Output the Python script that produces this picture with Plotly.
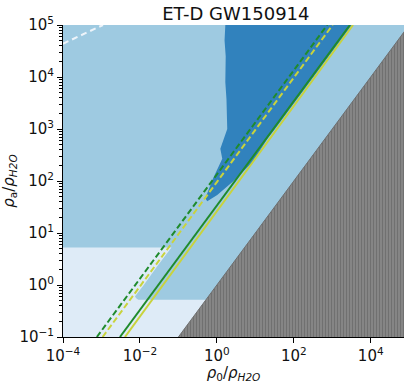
import plotly.graph_objects as go

# Axis extent in log10 units
log_rho0_range = [-4.0, 4.865]
log_rhoa_range = [-1.0, 5.0]

# Tick labels
x_tick_vals = [1e-4, 1e-2, 1e0, 1e2, 1e4]
x_tick_text = ["10<sup>−4</sup>", "10<sup>−2</sup>", "10<sup>0</sup>", "10<sup>2</sup>", "10<sup>4</sup>"]
y_tick_vals = [1e-1, 1e0, 1e1, 1e2, 1e3, 1e4, 1e5]
y_tick_text = ["10<sup>−1</sup>", "10<sup>0</sup>", "10<sup>1</sup>", "10<sup>2</sup>",
               "10<sup>3</sup>", "10<sup>4</sup>", "10<sup>5</sup>"]

# Outer (faint) credible region, log10 vertices
faint_log_rho0 = [-4.0, -4.0, -1.18, -1.55, -1.90, -2.13, -2.09, -2.04, 0.3, 0.3]
faint_log_rhoa = [-1.0, 0.72, 0.72, 0.36, 0.0, -0.22, -0.26, -0.285, -0.285, -1.0]

# Inner (dark) credible region, log10 vertices
dark_log_rho0 = [0.22, 0.20, 0.23, 0.22, 0.25, 0.27, 0.09, 0.14, -0.10, -0.30, -0.25,
                 0.01, 0.42, 0.94, 1.31, 1.51, 3.51]
dark_log_rhoa = [5.0, 4.7, 4.4, 3.9, 3.57, 3.0, 2.62, 2.43, 2.05, 1.67, 1.61,
                 1.73, 1.99, 2.37, 2.81, 3.0, 5.0]

# Excluded zone rho_a < rho_0
excluded_log_rho0 = [-1.0, 5.0, 5.0]
excluded_log_rhoa = [-1.0, 5.0, -1.0]

# Threshold lines: log10 rho0 at rho_a = 0.1 and rho_a = 1e5
line_log_rhoa = [-1.0, 5.0]
green_solid_log_rho0 = [-2.52, 3.46]
olive_solid_log_rho0 = [-2.39, 3.54]
green_dash_log_rho0 = [-3.12, 2.87]
olive_dash_log_rho0 = [-2.97, 3.01]

# Upper-left white dashed curve
white_log_rho0 = [-4.0, -2.96]
white_log_rhoa = [4.64, 5.0]

LIGHT = "#9ecae1"
FAINT = "#deebf7"
DARK = "#3182bd"
GREEN = "#1f8b2c"
OLIVE = "#c9d33c"


def pw(vals):
    return [10 ** v for v in vals]


fig = go.Figure()

# light-blue background covering the whole panel
fig.add_trace(go.Scatter(
    x=pw([log_rho0_range[0], log_rho0_range[0], 5, 5]),
    y=pw([log_rhoa_range[0], log_rhoa_range[1], log_rhoa_range[1], log_rhoa_range[0]]),
    fill="toself", fillcolor=LIGHT, mode="none"))

fig.add_trace(go.Scatter(x=pw(faint_log_rho0), y=pw(faint_log_rhoa),
                         fill="toself", fillcolor=FAINT, mode="none"))
fig.add_trace(go.Scatter(x=pw(dark_log_rho0), y=pw(dark_log_rhoa),
                         fill="toself", fillcolor=DARK, mode="none"))

fig.add_trace(go.Scatter(
    x=pw(excluded_log_rho0), y=pw(excluded_log_rhoa),
    fill="toself", mode="lines", line=dict(color="#6e6e6e", width=1),
    fillcolor="#808080",
    fillpattern=dict(shape="|", bgcolor="#858585", fgcolor="#5c5c5c", size=3, solidity=0.35)))

for xs, color, dash in [
    (green_dash_log_rho0, GREEN, "6px,3px"),
    (olive_dash_log_rho0, OLIVE, "6px,3px"),
    (green_solid_log_rho0, GREEN, "solid"),
    (olive_solid_log_rho0, OLIVE, "solid"),
]:
    fig.add_trace(go.Scatter(x=pw(xs), y=pw(line_log_rhoa), mode="lines",
                             line=dict(color=color, width=2, dash=dash)))

fig.add_trace(go.Scatter(x=pw(white_log_rho0), y=pw(white_log_rhoa), mode="lines",
                         line=dict(color="#eef4fa", width=2, dash="6px,4px")))

font = dict(family="DejaVu Sans", size=15, color="#111111")

fig.update_layout(
    width=404, height=383,
    margin=dict(l=63, r=0, t=25, b=42),
    paper_bgcolor="white", plot_bgcolor="white",
    showlegend=False, hovermode=False,
    font=font,
    title=dict(text="ET-D GW150914", x=0.507, xref="paper", xanchor="center",
               y=1 - 14 / 383, yref="container", yanchor="middle",
               font=dict(family="DejaVu Sans", size=18, color="#111111")),
)

fig.update_xaxes(
    type="log", range=log_rho0_range, showgrid=False, zeroline=False,
    showline=True, linecolor="black", linewidth=1,
    ticks="outside", ticklen=5, tickcolor="black",
    tickvals=x_tick_vals, ticktext=x_tick_text,
    title=dict(text="<i>ρ</i><sub>0</sub>/<i>ρ</i><sub><i>H2O</i></sub>",
               standoff=7, font=dict(size=15)),
)
fig.update_yaxes(
    type="log", range=log_rhoa_range, showgrid=False, zeroline=False,
    showline=True, linecolor="black", linewidth=1,
    ticks="outside", ticklen=5, tickcolor="black",
    tickvals=y_tick_vals, ticktext=y_tick_text,
    minor=dict(ticks="outside", ticklen=3, tickcolor="black", showgrid=False, dtick="D1"),
    title=dict(text="<i>ρ</i><sub>a</sub>/<i>ρ</i><sub><i>H2O</i></sub>",
               standoff=4, font=dict(size=15)),
)

fig.write_html("out.html")
